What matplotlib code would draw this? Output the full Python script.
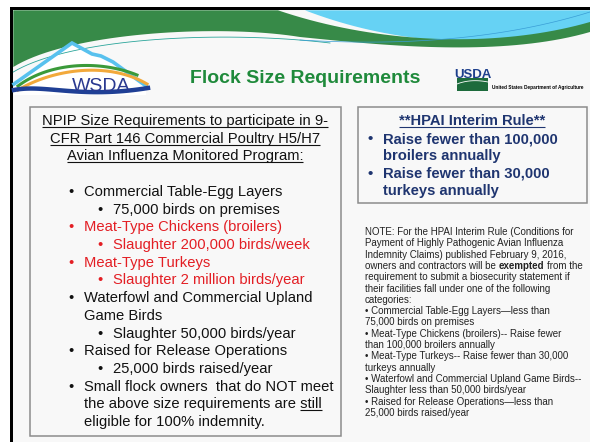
import numpy as np
import matplotlib
matplotlib.use('Agg')
import matplotlib.pyplot as plt
from matplotlib import font_manager
from matplotlib.patches import Polygon, Rectangle

plt.rcParams['font.family'] = ['Liberation Sans', 'DejaVu Sans']

# ---- slide content -------------------------------------------------------
title = 'Flock Size Requirements'

npip_heading = ['NPIP Size Requirements to participate in 9-',
                'CFR Part 146 Commercial Poultry H5/H7',
                'Avian Influenza Monitored Program:']

npip_text = ['Commercial Table-Egg Layers',
             '75,000 birds on premises',
             'Meat-Type Chickens (broilers)',
             'Slaughter 200,000 birds/week',
             'Meat-Type Turkeys',
             'Slaughter 2 million birds/year',
             'Waterfowl and Commercial Upland',
             'Game Birds',
             'Slaughter 50,000 birds/year',
             'Raised for Release Operations',
             '25,000 birds raised/year',
             'Small flock owners  that do NOT meet',
             'the above size requirements are still',
             'eligible for 100% indemnity.']
npip_level = [0, 1, 0, 1, 0, 1, 0, 0, 1, 0, 1, 0, 0, 0]
npip_bullet = [1, 1, 1, 1, 1, 1, 1, 0, 1, 1, 1, 1, 0, 0]
npip_red = [0, 0, 1, 1, 1, 1, 0, 0, 0, 0, 0, 0, 0, 0]
underlined_word = 'still'

hpai_title = '**HPAI Interim Rule**'
hpai_lines = ['Raise fewer than 100,000', 'broilers annually',
              'Raise fewer than 30,000', 'turkeys annually']
hpai_bullet = [1, 0, 1, 0]

note_lines = ['NOTE: For the HPAI Interim Rule (Conditions for',
              'Payment of Highly Pathogenic Avian Influenza',
              'Indemnity Claims) published February 9, 2016,',
              'owners and contractors will be **exempted** from the',
              'requirement to submit a biosecurity statement if',
              'their facilities fall under one of the following',
              'categories:',
              '\u2022 Commercial Table-Egg Layers\u2014less than',
              '75,000 birds on premises',
              '\u2022 Meat-Type Chickens (broilers)-- Raise fewer',
              'than 100,000 broilers annually',
              '\u2022 Meat-Type Turkeys-- Raise fewer than 30,000',
              'turkeys annually',
              '\u2022 Waterfowl and Commercial Upland Game Birds--',
              'Slaughter less than 50,000 birds/year',
              '\u2022 Raised for Release Operations\u2014less than',
              '25,000 birds raised/year']

# ---- colours -----------------------------------------------------------------
BG = '#f8f8f8'
GREEN = '#378a48'
SKY = '#66d2f4'
TITLE_GREEN = '#1f8a3b'
RED = '#e31e24'
INK = '#111111'
NAVY = '#1f3570'

fig = plt.figure(figsize=(5.9, 4.42), dpi=100)
fig.patch.set_facecolor('white')
ax = fig.add_axes([0, 0, 1, 1])
ax.set_xlim(0, 590)
ax.set_ylim(442, 0)
ax.axis('off')
renderer = fig.canvas.get_renderer()


def bez(p0, c1, c2, p1, n=40):
    t = np.linspace(0, 1, n)[:, None]
    p0, c1, c2, p1 = map(np.asarray, (p0, c1, c2, p1))
    return (1 - t)**3 * p0 + 3 * (1 - t)**2 * t * c1 + 3 * (1 - t) * t**2 * c2 + t**3 * p1


def put(x, y, s, size, color, weight='normal', ha='left', **kw):
    return ax.text(x, y, s, fontsize=size, color=color, fontweight=weight,
                   ha=ha, va='baseline', **kw)


def width(s, size, weight='normal'):
    t = put(0, 0, s, size, 'k', weight)
    w = t.get_window_extent(renderer).width
    t.remove()
    return w


def underline(x0, x1, y, color, lw=0.8):
    ax.plot([x0, x1], [y + 2, y + 2], color=color, lw=lw, solid_capstyle='butt')


def rich(x, y, s, size, color):
    sp = width('a a', size) - width('aa', size)
    for i, part in enumerate(s.split('**')):
        weight = 'bold' if i % 2 else 'normal'
        x += (len(part) - len(part.lstrip(' '))) * sp
        core = part.strip(' ')
        if core:
            t = put(x, y, core, size, color, weight)
            x += t.get_window_extent(renderer).width
        x += (len(part) - len(part.rstrip(' '))) * sp


# ---- slide frame and header ------------------------------------------------------
ax.add_patch(Rectangle((13, 10), 577, 432, facecolor=BG, edgecolor='none'))
ax.add_patch(Rectangle((10, 7), 580, 3.3, facecolor='black', edgecolor='none'))
ax.add_patch(Rectangle((10, 7), 3.3, 435, facecolor='black', edgecolor='none'))

sky = np.vstack([[(305, 10.3), (590, 10.3), (590, 26)],
                 bez((590, 26), (500, 52), (395, 45), (305, 10.3))])
ax.add_patch(Polygon(sky, closed=True, facecolor=SKY, edgecolor='none'))

green = np.vstack([[(13.3, 10.3), (278, 10.3)],
                   bez((278, 10.3), (380, 45), (500, 48), (590, 22)),
                   [(590, 32)],
                   bez((590, 32), (500, 58), (380, 45), (300, 37)),
                   bez((300, 37), (220, 24), (70, 32), (13.3, 67))])
ax.add_patch(Polygon(green, closed=True, facecolor=GREEN, edgecolor='none'))

teal = bez((13.3, 72), (70, 38), (220, 30), (330, 43))
ax.plot(teal[:, 0], teal[:, 1], color='#2aa59a', lw=0.6)
thin = bez((300, 40), (400, 46), (500, 40), (590, 12))
ax.plot(thin[:, 0], thin[:, 1], color='#3a9ed6', lw=0.5)

# WSDA logo
mountain = np.array([(14, 84), (72, 43), (92, 54), (101, 56), (113, 62), (146, 86)])
ax.add_patch(Polygon(np.vstack([mountain, [(146, 95), (14, 95)]]), closed=True,
                     facecolor='white', edgecolor='none'))
ax.plot(mountain[:, 0], mountain[:, 1], color='#58c1ee', lw=2.6, solid_joinstyle='miter')
arc_g = bez((18, 86), (50, 62), (100, 60), (137, 75))
ax.plot(arc_g[:, 0], arc_g[:, 1], color='#3b9a3a', lw=2.2)
arc_o = bez((18, 90), (55, 68), (110, 62), (147, 84))
ax.plot(arc_o[:, 0], arc_o[:, 1], color='#f2a93b', lw=2.2)
wave = bez((14, 90), (45, 84), (80, 99), (148, 88))
ax.plot(wave[:, 0], wave[:, 1], color='#1f3f95', lw=3.2)

names = {f.name for f in font_manager.fontManager.ttflist}
narrow = 'Liberation Sans Narrow' if 'Liberation Sans Narrow' in names else 'Liberation Sans'
put(101, 91, 'WSDA', 14, '#2a3990', ha='center', family=narrow)

# title
put(190, 83, title, 14, TITLE_GREEN, 'bold')

# USDA logo
ax.add_patch(Rectangle((457, 78), 31, 13, facecolor='#1d6b3c', edgecolor='none'))
usda = bez((457, 84), (467, 80), (478, 80), (488, 82))
ax.plot(usda[:, 0], usda[:, 1], color='white', lw=0.6)
put(472.5, 77.5, 'USDA', 9.5, '#1d3f8c', 'bold', ha='center', family=narrow)
put(492, 89, 'United States Department of Agriculture', 3.4, 'black', 'bold')

# ---- left box --------------------------------------------------------------------
ax.add_patch(Rectangle((30, 107), 311, 329, facecolor='none', edgecolor='#8c8c8c', lw=1.1))

size = 10.6
for i, line in enumerate(npip_heading):
    y = 125 + i * 17.6
    t = put(185, y, line, size, INK, ha='center')
    bb = t.get_window_extent(renderer)
    underline(bb.x0, bb.x1, y, INK)

for i, line in enumerate(npip_text):
    y = 196 + i * 17.69
    col = RED if npip_red[i] else INK
    xb, xt = (68, 84) if npip_level[i] == 0 else (97, 113)
    if npip_bullet[i]:
        put(xb, y, '\u2022', size, col)
    t = put(xt, y, line, size, col)
    if line.endswith(underlined_word):
        bb = t.get_window_extent(renderer)
        underline(bb.x1 - width(underlined_word, size), bb.x1, y, INK)

# ---- HPAI box ------------------------------------------------------------------------
ax.add_patch(Rectangle((358, 107), 229, 96, facecolor='none', edgecolor='#8c8c8c', lw=1.1))
t = put(472, 125, hpai_title, size, NAVY, 'bold', ha='center')
bb = t.get_window_extent(renderer)
underline(bb.x0, bb.x1, 125, NAVY)
for i, line in enumerate(hpai_lines):
    y = 143 + i * 17.4
    if hpai_bullet[i]:
        put(367, y, '\u2022', size, NAVY, 'bold')
    put(383, y, line, size, NAVY, 'bold')

# ---- note ------------------------------------------------------------------------------
for i, line in enumerate(note_lines):
    rich(365, 235 + i * 11.31, line, 7.05, '#222222')

fig.savefig('out.png', dpi=100)
